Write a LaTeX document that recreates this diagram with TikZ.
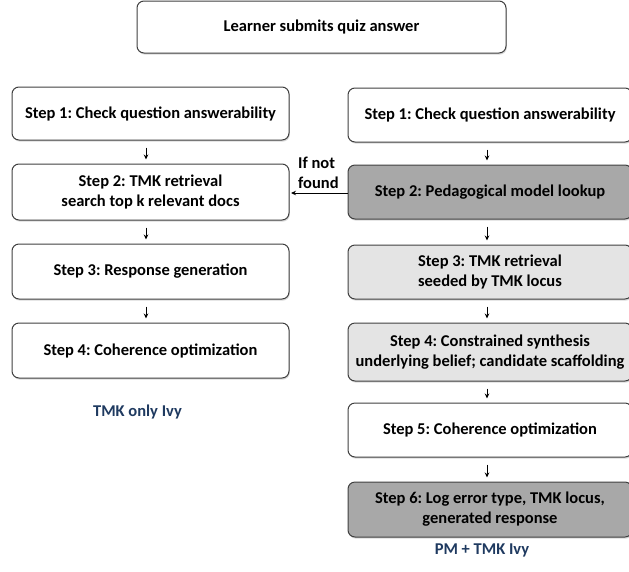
\documentclass[tikz,border=0pt]{standalone}
\usepackage{fontspec}
\setmainfont{Carlito}
\usetikzlibrary{shadows,arrows.meta}
\definecolor{dgrey}{HTML}{A8A8A8}
\definecolor{lgrey}{HTML}{E4E4E4}
\definecolor{bordc}{HTML}{404040}
\definecolor{navy}{HTML}{1F3A60}
\frenchspacing
\tikzset{
  box/.style={rounded corners=7pt, draw=bordc, line width=1pt, fill=white,
    drop shadow={shadow xshift=0.8pt, shadow yshift=-1.6pt, opacity=0.3},
    font=\bfseries\fontsize{16.5}{20}\selectfont, align=center, inner sep=0pt},
  arr/.style={line width=1pt, -{Stealth[length=5pt,width=4.5pt]}},
  vlink/.style={arr, shorten <=7pt, shorten >=4pt},
  captxt/.style={font=\bfseries\fontsize{16.5}{20}\selectfont, text=navy},
}
\begin{document}
\begin{tikzpicture}[x=1pt,y=-1pt]
\useasboundingbox (0,0) rectangle (629,571);
% top
\node[box, minimum width=369pt, minimum height=52pt] (top) at (321.5,27) {Learner submits quiz answer};
% left column
\node[box, minimum width=277pt, minimum height=53pt] (L1) at (150.5,113.5) {Step 1: Check question answerability};
\node[box, minimum width=277pt, minimum height=56pt] (L2) at (150.5,192) {Step 2: TMK retrieval\\search top k relevant docs};
\node[box, minimum width=277pt, minimum height=55pt] (L3) at (150.5,271.5) {Step 3: Response generation};
\node[box, minimum width=277pt, minimum height=55pt] (L4) at (150.5,350.5) {Step 4: Coherence optimization};
\node[captxt] (capL) at (137.5,412) {TMK only Ivy};
% right column
\node[box, minimum width=284pt, minimum height=54pt] (R1) at (490,115) {Step 1: Check question answerability};
\node[box, fill=dgrey, minimum width=284pt, minimum height=54pt] (R2) at (490,192) {Step 2: Pedagogical model lookup};
\node[box, fill=lgrey, minimum width=284pt, minimum height=54pt] (R3) at (490,272) {Step 3: TMK retrieval\\seeded by TMK locus};
\node[box, fill=lgrey, minimum width=284pt, minimum height=58pt] (R4) at (490,352) {Step 4: Constrained synthesis\\underlying belief; candidate scaffolding};
\node[box, minimum width=284pt, minimum height=54pt] (R5) at (490,430) {Step 5: Coherence optimization};
\node[box, fill=dgrey, minimum width=284pt, minimum height=55pt] (R6) at (490,509.5) {Step 6: Log error type, TMK locus,\\generated response};
\node[captxt] (capR) at (482,550) {PM + TMK Ivy};
% arrows left
\draw[vlink] ([xshift=-4.5pt]L1.south) -- ([xshift=-4.5pt]L2.north);
\draw[vlink] ([xshift=-4.5pt]L2.south) -- ([xshift=-4.5pt]L3.north);
\draw[vlink] ([xshift=-4.5pt]L3.south) -- ([xshift=-4.5pt]L4.north);
% arrows right
\draw[vlink] ([xshift=-3pt]R1.south) -- ([xshift=-3pt]R2.north);
\draw[vlink] ([xshift=-3pt]R2.south) -- ([xshift=-3pt]R3.north);
\draw[vlink] ([xshift=-3pt]R3.south) -- ([xshift=-3pt]R4.north);
\draw[vlink] ([xshift=-3pt]R4.south) -- ([xshift=-3pt]R5.north);
\draw[vlink] ([xshift=-3pt]R5.south) -- ([xshift=-3pt]R6.north);
% if not found
\draw[arr, shorten >=1.5pt] ([yshift=-1pt]R2.west) -- ([yshift=-1pt]R2.west -| L2.east);
\node[anchor=west, align=left, inner sep=0pt, font=\bfseries\fontsize{16.5}{20}\selectfont] (nf) at (298,172.5) {If not\\found};
\end{tikzpicture}
\end{document}
